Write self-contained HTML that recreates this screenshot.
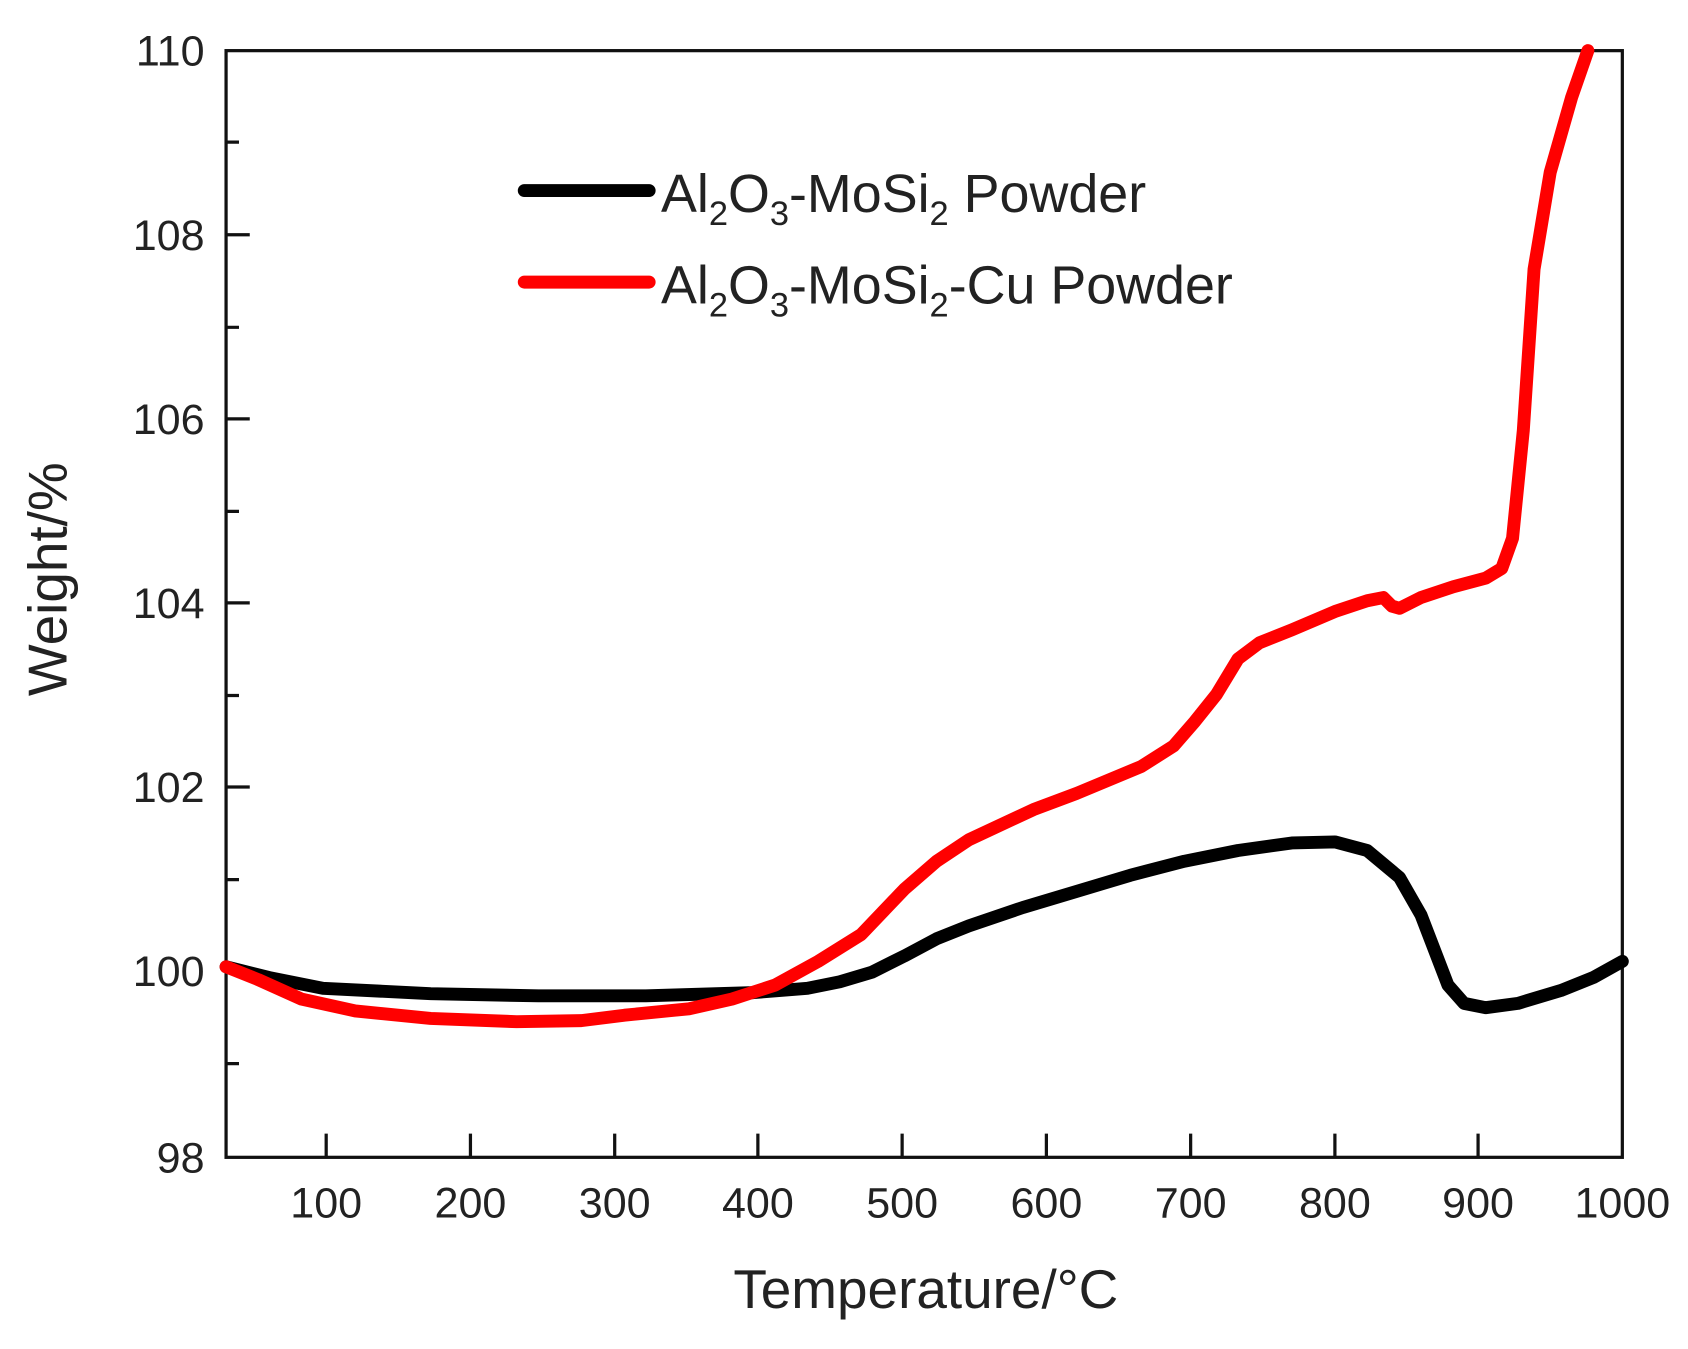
<!DOCTYPE html>
<html><head><meta charset="utf-8"><style>html,body{margin:0;padding:0;background:#fff;}svg{display:block}</style></head>
<body>
<svg width="1688" height="1349" viewBox="0 0 1568 1253" xmlns="http://www.w3.org/2000/svg" font-family="Liberation Sans, Arial, sans-serif">
<rect width="1568" height="1253" fill="#fff"/>
<g stroke="#111" stroke-width="3" fill="none">
<rect x="210" y="47" width="1297" height="1028"/>
<path d="M210,218h22 M210,389h22 M210,560h22 M210,731h22 M210,902h22 M210,132h12 M210,304h12 M210,475h12 M210,646h12 M210,817h12 M210,988h12"/>
<path d="M303,1075v-22 M437,1075v-22 M571,1075v-22 M704,1075v-22 M838,1075v-22 M972,1075v-22 M1106,1075v-22 M1240,1075v-22 M1373,1075v-22"/>
</g>
<g font-size="40" fill="#222" text-anchor="end">
<text x="190" y="61">110</text><text x="190" y="232">108</text><text x="190" y="403">106</text><text x="190" y="574">104</text><text x="190" y="745">102</text><text x="190" y="916">100</text><text x="190" y="1089">98</text>
</g>
<g font-size="40" fill="#222" text-anchor="middle">
<text x="303" y="1131">100</text><text x="437" y="1131">200</text><text x="571" y="1131">300</text><text x="704" y="1131">400</text><text x="838" y="1131">500</text><text x="972" y="1131">600</text><text x="1106" y="1131">700</text><text x="1240" y="1131">800</text><text x="1373" y="1131">900</text><text x="1507" y="1131">1000</text>
</g>
<text x="860" y="1215" font-size="51" fill="#222" text-anchor="middle">Temperature/°C</text>
<text transform="translate(62,538) rotate(-90)" font-size="51" fill="#222" text-anchor="middle">Weight/%</text>
<g fill="none" stroke-width="12" stroke-linecap="round" stroke-linejoin="round">
<polyline stroke="#000" points="210,898 250,908 300,918 400,923 500,925 600,925 700,922 750,918 780,912 810,903 840,888 870,872 900,860 950,843 1000,828 1050,813 1100,800 1150,790 1200,783 1240,782 1270,790 1300,815 1320,850 1345,915 1360,932 1380,936 1410,932 1450,920 1480,908 1507,893"/>
<polyline stroke="#f00" points="210,898 240,910 280,928 330,939 400,946 480,949 540,948 580,943 640,937 680,928 720,915 760,893 800,868 840,826 870,800 900,780 960,752 1000,737 1060,712 1090,693 1110,670 1130,645 1150,612 1170,597 1200,585 1240,568 1270,558 1285,555 1293,563 1300,565 1320,555 1350,545 1380,537 1395,528 1405,500 1415,400 1425,250 1440,160 1460,90 1475,47"/>
<line x1="487" y1="177" x2="603" y2="177" stroke="#000"/>
<line x1="487" y1="262" x2="603" y2="262" stroke="#f00"/>
</g>
<g font-size="50" fill="#222">
<text x="614" y="197">Al<tspan font-size="32" dy="12">2</tspan><tspan dy="-12">O</tspan><tspan font-size="32" dy="12">3</tspan><tspan dy="-12">-MoSi</tspan><tspan font-size="32" dy="12">2</tspan><tspan dy="-12"> Powder</tspan></text>
<text x="614" y="282">Al<tspan font-size="32" dy="12">2</tspan><tspan dy="-12">O</tspan><tspan font-size="32" dy="12">3</tspan><tspan dy="-12">-MoSi</tspan><tspan font-size="32" dy="12">2</tspan><tspan dy="-12">-Cu Powder</tspan></text>
</g>
</svg>
</body></html>
